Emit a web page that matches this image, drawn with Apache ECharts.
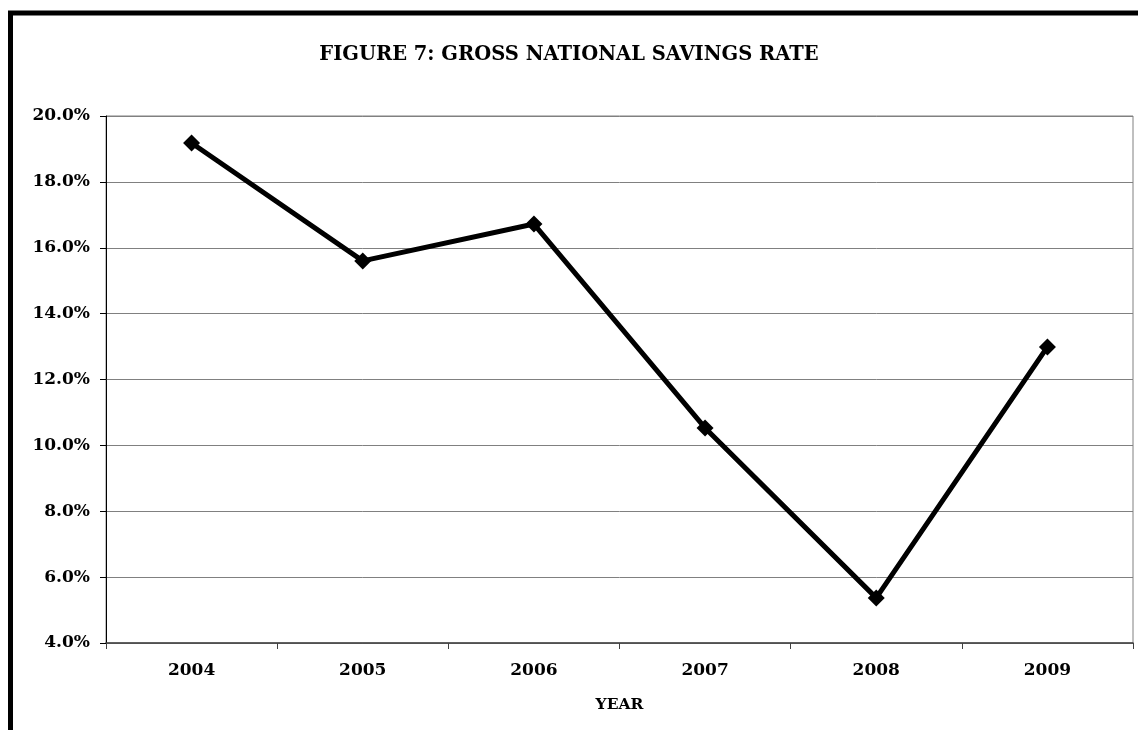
<!DOCTYPE html>
<html>
<head>
<meta charset="utf-8">
<script src="https://cdn.jsdelivr.net/npm/echarts@6/dist/echarts.min.js"></script>
<style>
html,body{margin:0;padding:0;background:#fff;}
#chart{width:1138px;height:730px;}
</style>
</head>
<body>
<div id="chart"></div>
<script>
var years = ['2004', '2005', '2006', '2007', '2008', '2009'];
var savingsRate = [19.18, 15.6, 16.72, 10.53, 5.37, 12.99];
var titleText = 'FIGURE 7: GROSS NATIONAL SAVINGS RATE';
var xAxisName = 'YEAR';

var font = '"DejaVu Serif", serif';
var chart = echarts.init(document.getElementById('chart'));
chart.setOption({
  backgroundColor: '#ffffff',
  animation: false,
  title: {
    text: titleText,
    left: 'center',
    top: 40,
    textStyle: { fontFamily: font, fontWeight: 'bold', fontSize: 19.5, color: '#000' }
  },
  graphic: [{
    type: 'rect',
    shape: { x: 10.5, y: 13, width: 1300, height: 900 },
    style: { fill: 'none', stroke: '#000', lineWidth: 5 },
    silent: true
  }],
  grid: {
    left: 106, right: 5, top: 116, bottom: 87,
    show: true, borderColor: '#808080', borderWidth: 1, backgroundColor: 'transparent'
  },
  xAxis: {
    type: 'category',
    data: years,
    boundaryGap: true,
    name: xAxisName,
    nameLocation: 'middle',
    nameGap: 54,
    nameTextStyle: { fontFamily: font, fontWeight: 'bold', fontSize: 15.5, color: '#000' },
    axisLine: { lineStyle: { color: '#404040', width: 1.5 } },
    axisTick: { show: true, alignWithLabel: false, length: 6, lineStyle: { color: '#404040' } },
    axisLabel: { fontFamily: font, fontWeight: 'bold', fontSize: 17, color: '#000', margin: 19 },
    splitLine: { show: false }
  },
  yAxis: {
    type: 'value',
    min: 4, max: 20, interval: 2,
    axisLine: { show: true, lineStyle: { color: '#000', width: 1 } },
    axisTick: { show: true, length: 6, lineStyle: { color: '#000' } },
    axisLabel: {
      fontFamily: font, fontWeight: 'bold', fontSize: 17, color: '#000', margin: 16,
      formatter: function (v) { return v.toFixed(1) + '%'; }
    },
    splitLine: { show: true, lineStyle: { color: '#808080', width: 1 } }
  },
  series: [{
    type: 'line',
    data: savingsRate,
    symbol: 'diamond',
    symbolSize: 17,
    lineStyle: { color: '#000', width: 5 },
    itemStyle: { color: '#000' },
    z: 5
  }]
});
</script>
</body>
</html>
